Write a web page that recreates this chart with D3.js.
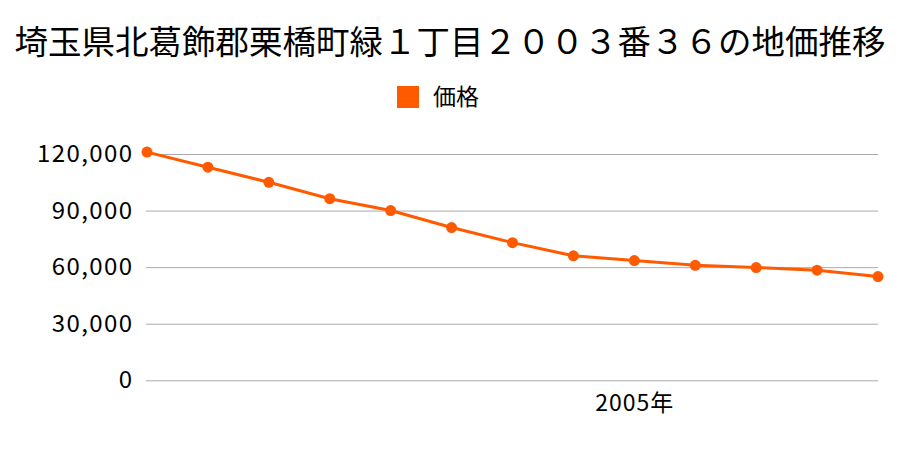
<!DOCTYPE html>
<html><head><meta charset="utf-8">
<script src="https://cdn.jsdelivr.net/npm/d3@7"></script>
<style>body{margin:0;background:#fff;} svg{display:block;}</style>
</head><body>
<script>
const titleText = "埼玉県北葛飾郡栗橋町緑１丁目２００３番３６の地価推移";
const seriesName = "価格";
const years = [1997,1998,1999,2000,2001,2002,2003,2004,2005,2006,2007,2008,2009];
const prices = [121000,113000,105000,96300,90000,81000,73000,66000,63500,61000,59800,58400,55000];
const yTicks = [0,30000,60000,90000,120000];
const xLabelYears = [2005];

const W=900,H=450;
const color="#ff5a00";
const font='"Noto Sans CJK JP","Noto Sans",sans-serif';
const svg=d3.select("body").append("svg").attr("width",W).attr("height",H);

const x=d3.scalePoint().domain(years).range([147,878]);
const y=d3.scaleLinear().domain([0,120000]).range([380.3,154]);

svg.append("text").attr("x",450).attr("y",54).attr("text-anchor","middle")
  .attr("font-family",font).attr("font-size",33.5).attr("fill","#000").text(titleText);

svg.append("rect").attr("x",397).attr("y",86).attr("width",22).attr("height",22).attr("fill",color);
svg.append("text").attr("x",433).attr("y",105).attr("font-family",font).attr("font-size",23).attr("fill","#000").text(seriesName);

const yAxis=d3.axisLeft(y).tickValues(yTicks).tickSize(-(878-146)).tickPadding(14)
  .tickFormat(d3.format(","));
const gy=svg.append("g").attr("transform","translate(146,0)").call(yAxis);
gy.select(".domain").remove();
gy.selectAll(".tick line").attr("stroke","#aaa").attr("stroke-width",1);
gy.selectAll(".tick text").attr("font-family",font).attr("font-size",24).attr("fill","#000")
  .attr("letter-spacing","1.4px").attr("dx","1.4");

const xAxis=d3.axisBottom(x).tickValues(xLabelYears).tickSize(0).tickPadding(14).tickFormat(d=>d+"年");
const gx=svg.append("g").attr("transform","translate(0,380.3)").call(xAxis);
gx.select(".domain").remove();
gx.selectAll(".tick text").attr("font-family",font).attr("font-size",23).attr("fill","#000")
  .attr("letter-spacing","1px");

const data=years.map((yr,i)=>({yr,v:prices[i]}));
svg.append("path").datum(data).attr("fill","none").attr("stroke",color).attr("stroke-width",3)
  .attr("d",d3.line().x(d=>x(d.yr)).y(d=>y(d.v)));
svg.selectAll("circle.pt").data(data).enter().append("circle").attr("class","pt")
  .attr("cx",d=>x(d.yr)).attr("cy",d=>y(d.v)).attr("r",5.5).attr("fill",color);
</script>
</body></html>
